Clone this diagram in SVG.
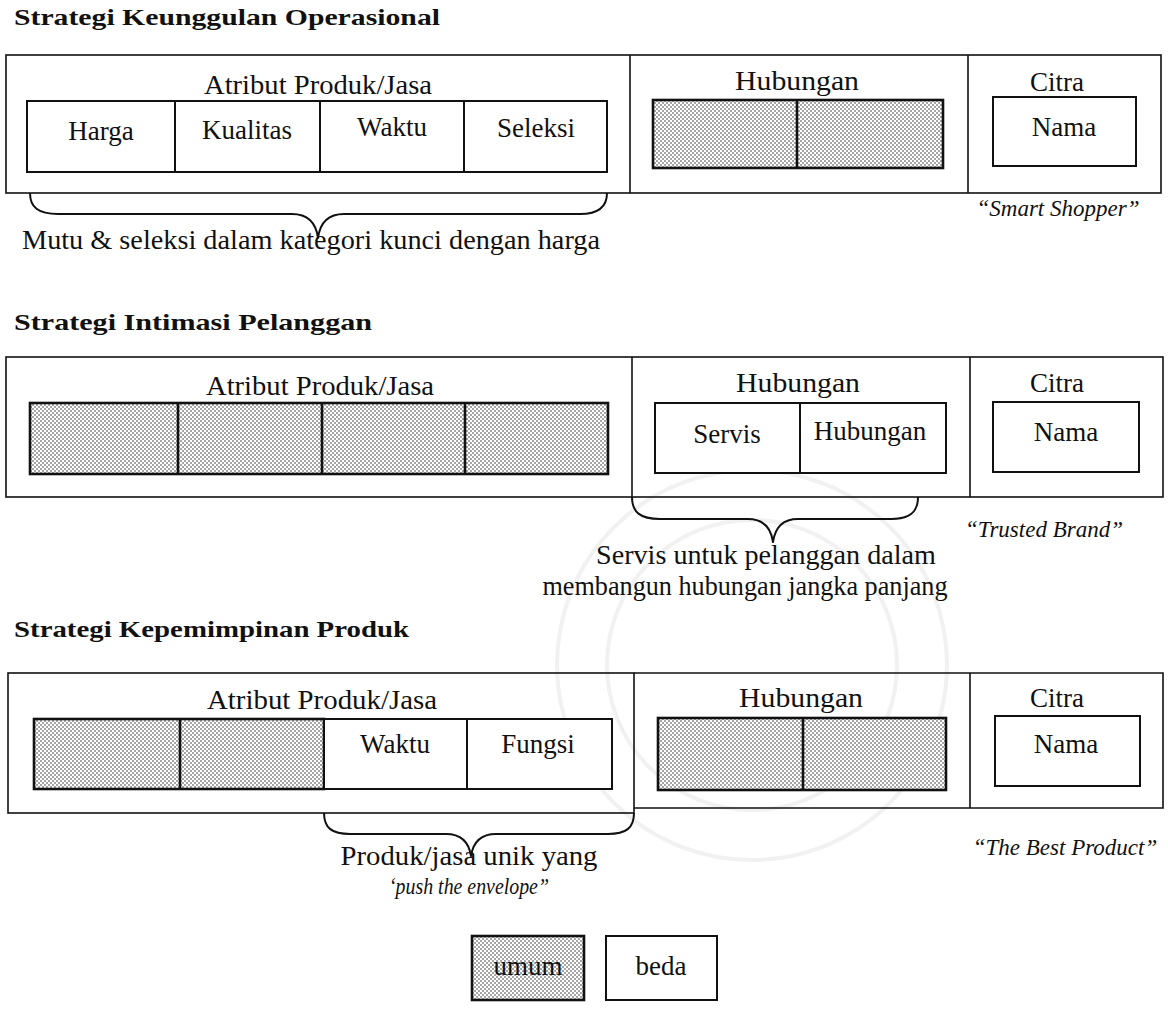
<svg xmlns="http://www.w3.org/2000/svg" width="1168" height="1031" viewBox="0 0 1168 1031">
  <style>
    .title { font-family: "Liberation Serif", "Times New Roman", serif; font-weight: bold; font-size: 24px; fill: #111; }
    .lbl { font-family: "Liberation Serif", "Times New Roman", serif; font-size: 27px; fill: #111; }
    .it { font-family: "Liberation Serif", "Times New Roman", serif; font-style: italic; font-size: 23px; fill: #111; }
    .c { text-anchor: middle; }
    .outer { fill: none; stroke: #111; stroke-width: 1.6; }
    .cell { fill: #fff; stroke: #111; stroke-width: 2; }
    .shade { fill: url(#dots); stroke: #111; stroke-width: 2.6; }
    .brace { fill: none; stroke: #111; stroke-width: 2; stroke-linejoin: round; }
  </style>
  <defs>
    <!-- halftone dot fill used for the "umum" cells -->
    <pattern id="dots" width="4" height="4" patternUnits="userSpaceOnUse">
      <rect width="4" height="4" fill="#fff"/>
      <circle cx="1" cy="1" r="0.8" fill="#333"/>
      <circle cx="3" cy="3" r="0.8" fill="#333"/>
    </pattern>
  </defs>
  <rect width="1168" height="1031" fill="#fff"/>

  <!-- faint emblem in the background -->
  <g id="emblem" fill="none" stroke="#f1f1f1" stroke-width="4">
    <circle cx="752" cy="665" r="195"/>
    <circle cx="752" cy="665" r="145"/>
  </g>

  <!-- ===== Strategi Keunggulan Operasional ===== -->
  <g id="s1">
    <text class="title" x="14" y="25" textLength="426" lengthAdjust="spacingAndGlyphs">Strategi Keunggulan Operasional</text>
    <rect class="outer" x="6" y="55" width="1155" height="138"/>
    <line class="outer" x1="630" y1="55" x2="630" y2="193"/>
    <line class="outer" x1="968" y1="55" x2="968" y2="193"/>
  </g>
  <g id="s1-atribut">
    <text class="lbl c" x="318" y="94" textLength="228" lengthAdjust="spacingAndGlyphs">Atribut Produk/Jasa</text>
    <rect class="cell" x="27" y="101" width="580" height="71"/>
    <line class="cell" x1="175" y1="101" x2="175" y2="172"/>
    <line class="cell" x1="320" y1="101" x2="320" y2="172"/>
    <line class="cell" x1="464" y1="101" x2="464" y2="172"/>
    <text class="lbl c" x="101" y="140">Harga</text>
    <text class="lbl c" x="247" y="139">Kualitas</text>
    <text class="lbl c" x="392" y="136">Waktu</text>
    <text class="lbl c" x="536" y="137">Seleksi</text>
  </g>
  <g id="s1-hubungan">
    <text class="lbl c" x="797" y="90" textLength="124" lengthAdjust="spacingAndGlyphs">Hubungan</text>
    <rect class="shade" x="653" y="100" width="290" height="68"/>
    <line class="shade" x1="797" y1="100" x2="797" y2="168"/>
  </g>
  <g id="s1-citra">
    <text class="lbl c" x="1057" y="91">Citra</text>
    <rect class="cell" x="993" y="97" width="143" height="69"/>
    <text class="lbl c" x="1064" y="136">Nama</text>
    <text class="it c" x="1058" y="216">“Smart Shopper”</text>
  </g>

  <!-- ===== Strategi Intimasi Pelanggan ===== -->
  <g id="s2">
    <text class="title" x="14" y="330" textLength="358" lengthAdjust="spacingAndGlyphs">Strategi Intimasi Pelanggan</text>
    <rect class="outer" x="6" y="357" width="1157" height="140"/>
    <line class="outer" x1="632" y1="357" x2="632" y2="497"/>
    <line class="outer" x1="970" y1="357" x2="970" y2="497"/>
  </g>
  <g id="s2-atribut">
    <text class="lbl c" x="320" y="395" textLength="228" lengthAdjust="spacingAndGlyphs">Atribut Produk/Jasa</text>
    <rect class="shade" x="30" y="403" width="578" height="71"/>
    <line class="shade" x1="178" y1="403" x2="178" y2="474"/>
    <line class="shade" x1="322" y1="403" x2="322" y2="474"/>
    <line class="shade" x1="465" y1="403" x2="465" y2="474"/>
  </g>
  <g id="s2-hubungan">
    <text class="lbl c" x="798" y="392" textLength="124" lengthAdjust="spacingAndGlyphs">Hubungan</text>
    <rect class="cell" x="655" y="403" width="291" height="70"/>
    <line class="cell" x1="800" y1="403" x2="800" y2="473"/>
    <text class="lbl c" x="727" y="443">Servis</text>
    <text class="lbl c" x="870" y="440">Hubungan</text>
  </g>
  <g id="s2-citra">
    <text class="lbl c" x="1057" y="392">Citra</text>
    <rect class="cell" x="993" y="402" width="146" height="70"/>
    <text class="lbl c" x="1066" y="441">Nama</text>
    <text class="it c" x="1044" y="537">“Trusted Brand”</text>
  </g>

  <!-- ===== Strategi Kepemimpinan Produk ===== -->
  <g id="s3">
    <text class="title" x="14" y="637" textLength="395" lengthAdjust="spacingAndGlyphs">Strategi Kepemimpinan Produk</text>
    <rect class="outer" x="8" y="673" width="626" height="140"/>
    <polyline class="outer" points="634,673 1163,673 1163,808 634,808"/>
    <line class="outer" x1="970" y1="673" x2="970" y2="808"/>
  </g>
  <g id="s3-atribut">
    <text class="lbl c" x="322" y="709" textLength="230" lengthAdjust="spacingAndGlyphs">Atribut Produk/Jasa</text>
    <rect class="shade" x="34" y="719" width="290" height="70"/>
    <line class="shade" x1="180" y1="719" x2="180" y2="789"/>
    <rect class="cell" x="324" y="719" width="288" height="70"/>
    <line class="cell" x1="467" y1="719" x2="467" y2="789"/>
    <text class="lbl c" x="395" y="753">Waktu</text>
    <text class="lbl c" x="538" y="753">Fungsi</text>
  </g>
  <g id="s3-hubungan">
    <text class="lbl c" x="801" y="707" textLength="124" lengthAdjust="spacingAndGlyphs">Hubungan</text>
    <rect class="shade" x="658" y="718" width="288" height="72"/>
    <line class="shade" x1="803" y1="718" x2="803" y2="790"/>
  </g>
  <g id="s3-citra">
    <text class="lbl c" x="1057" y="707">Citra</text>
    <rect class="cell" x="995" y="716" width="145" height="70"/>
    <text class="lbl c" x="1066" y="753">Nama</text>
    <text class="it c" x="1065" y="855">“The Best Product”</text>
  </g>

  <!-- braces and their captions -->
  <g id="connectors">
    <path class="brace" d="M30,193 C30,207 38,214 58,214 L292,214 C308,214 316,223 318,238 C320,223 328,214 344,214 L580,214 C598,214 607,207 607,193"/>
    <path class="brace" d="M632,497 C632,512 640,519 660,519 L748,519 C764,519 771,528 773,542 C775,528 782,519 798,519 L892,519 C910,519 918,512 918,497"/>
    <path class="brace" d="M324,813 C324,828 332,834 350,834 L446,834 C462,834 469,843 471,856 C473,843 480,834 496,834 L608,834 C626,834 634,828 634,813"/>
  </g>
  <g id="captions">
    <text class="lbl" x="22" y="249" textLength="578" lengthAdjust="spacingAndGlyphs">Mutu &amp; seleksi dalam kategori kunci dengan harga</text>
    <text class="lbl c" x="766" y="564" textLength="340" lengthAdjust="spacingAndGlyphs">Servis untuk pelanggan dalam</text>
    <text class="lbl c" x="745" y="595" textLength="405" lengthAdjust="spacingAndGlyphs">membangun hubungan jangka panjang</text>
    <text class="lbl c" x="469" y="865" textLength="257" lengthAdjust="spacingAndGlyphs">Produk/jasa unik yang</text>
    <text class="it c" x="469" y="894" font-size="19" textLength="160" lengthAdjust="spacingAndGlyphs">‘push the envelope”</text>
  </g>

  <!-- legend -->
  <g id="legend-umum">
    <rect class="shade" x="472" y="936" width="112" height="64"/>
    <text class="lbl c" x="528" y="975" font-size="24">umum</text>
  </g>
  <g id="legend-beda">
    <rect class="cell" x="606" y="936" width="111" height="64"/>
    <text class="lbl c" x="661" y="975" font-size="24">beda</text>
  </g>
</svg>
